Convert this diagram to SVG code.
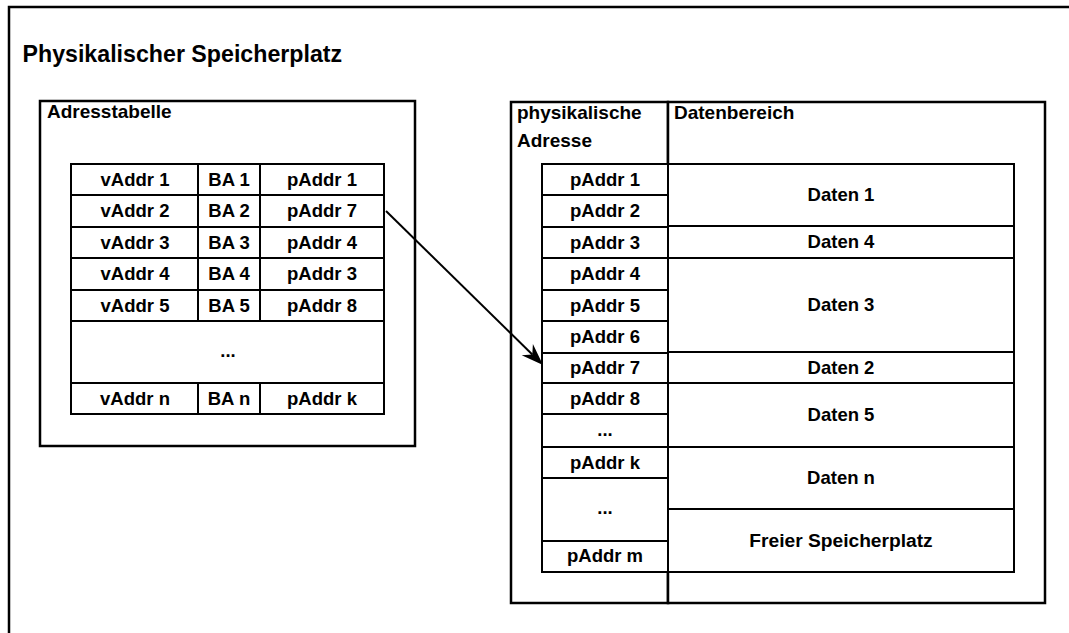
<svg xmlns="http://www.w3.org/2000/svg" width="1069" height="633" viewBox="0 0 1069 633">
<style>
.box{fill:#fff;stroke:#000;stroke-width:2.5}
.cell{fill:#fff;stroke:#000;stroke-width:2}
text{font-family:"Liberation Sans",Arial,sans-serif;font-weight:bold;fill:#000}
.t{font-size:18.5px;text-anchor:middle}
.h{font-size:19px}
.title{font-size:23.2px}
.conn{stroke:#000;stroke-width:2;fill:none}
</style>
<defs>
<marker id="arr" markerUnits="userSpaceOnUse" viewBox="-8 -9 24 18" markerWidth="24" markerHeight="18" refX="0" refY="0" orient="auto" overflow="visible">
<path d="M15,0 L-7,-8 L0,0 L-7,8 Z" fill="#000"/>
</marker>
</defs>
<rect width="1069" height="633" fill="#fff"/>
<g id="frame">
<rect class="box" x="9" y="7" width="1080" height="650"/>
<text class="title" x="22.5" y="62">Physikalischer Speicherplatz</text>
</g>
<g id="adresstabelle">
<rect class="box" x="40" y="101" width="375" height="345"/>
<text class="h" x="47" y="118">Adresstabelle</text>
<g id="table">
<rect class="cell" x="71" y="164" width="127" height="31"/><rect class="cell" x="198" y="164" width="62" height="31"/><rect class="cell" x="260" y="164" width="124" height="31"/>
<rect class="cell" x="71" y="195" width="127" height="32"/><rect class="cell" x="198" y="195" width="62" height="32"/><rect class="cell" x="260" y="195" width="124" height="32"/>
<rect class="cell" x="71" y="227" width="127" height="31"/><rect class="cell" x="198" y="227" width="62" height="31"/><rect class="cell" x="260" y="227" width="124" height="31"/>
<rect class="cell" x="71" y="258" width="127" height="32"/><rect class="cell" x="198" y="258" width="62" height="32"/><rect class="cell" x="260" y="258" width="124" height="32"/>
<rect class="cell" x="71" y="290" width="127" height="31"/><rect class="cell" x="198" y="290" width="62" height="31"/><rect class="cell" x="260" y="290" width="124" height="31"/>
<rect class="cell" x="71" y="321" width="313" height="62"/>
<rect class="cell" x="71" y="383" width="127" height="31"/><rect class="cell" x="198" y="383" width="62" height="31"/><rect class="cell" x="260" y="383" width="124" height="31"/>
<text class="t" x="135" y="185.5">vAddr 1</text><text class="t" x="229" y="185.5">BA 1</text><text class="t" x="322" y="185.5">pAddr 1</text>
<text class="t" x="135" y="217">vAddr 2</text><text class="t" x="229" y="217">BA 2</text><text class="t" x="322" y="217">pAddr 7</text>
<text class="t" x="135" y="248.5">vAddr 3</text><text class="t" x="229" y="248.5">BA 3</text><text class="t" x="322" y="248.5">pAddr 4</text>
<text class="t" x="135" y="280">vAddr 4</text><text class="t" x="229" y="280">BA 4</text><text class="t" x="322" y="280">pAddr 3</text>
<text class="t" x="135" y="311.5">vAddr 5</text><text class="t" x="229" y="311.5">BA 5</text><text class="t" x="322" y="311.5">pAddr 8</text>
<text class="t" x="228" y="357">...</text>
<text class="t" x="135" y="404.5">vAddr n</text><text class="t" x="229" y="404.5">BA n</text><text class="t" x="322" y="404.5">pAddr k</text>
</g>
</g>
<g id="speicher">
<rect class="box" x="511" y="102" width="157" height="501"/>
<rect class="box" x="668" y="102" width="377" height="501"/>
<text class="h" x="517" y="118.5">physikalische</text>
<text class="h" x="517" y="147">Adresse</text>
<text class="h" x="674" y="119">Datenbereich</text>
</g>
<g id="adressen">
<rect class="cell" x="542" y="164" width="126" height="31"/>
<rect class="cell" x="542" y="195" width="126" height="32"/>
<rect class="cell" x="542" y="227" width="126" height="31"/>
<rect class="cell" x="542" y="258" width="126" height="32"/>
<rect class="cell" x="542" y="290" width="126" height="31"/>
<rect class="cell" x="542" y="321" width="126" height="32"/>
<rect class="cell" x="542" y="353" width="126" height="30"/>
<rect class="cell" x="542" y="383" width="126" height="31"/>
<rect class="cell" x="542" y="414" width="126" height="33"/>
<rect class="cell" x="542" y="447" width="126" height="31"/>
<rect class="cell" x="542" y="478" width="126" height="63"/>
<rect class="cell" x="542" y="541" width="126" height="31"/>
<text class="t" x="605" y="185.5">pAddr 1</text>
<text class="t" x="605" y="217">pAddr 2</text>
<text class="t" x="605" y="248.5">pAddr 3</text>
<text class="t" x="605" y="280">pAddr 4</text>
<text class="t" x="605" y="311.5">pAddr 5</text>
<text class="t" x="605" y="343">pAddr 6</text>
<text class="t" x="605" y="374">pAddr 7</text>
<text class="t" x="605" y="404.5">pAddr 8</text>
<text class="t" x="605" y="436">...</text>
<text class="t" x="605" y="468.5">pAddr k</text>
<text class="t" x="605" y="514">...</text>
<text class="t" x="605" y="562">pAddr m</text>
</g>
<g id="daten">
<rect class="cell" x="668" y="164" width="346" height="62"/>
<rect class="cell" x="668" y="226" width="346" height="32"/>
<rect class="cell" x="668" y="258" width="346" height="94"/>
<rect class="cell" x="668" y="352" width="346" height="31"/>
<rect class="cell" x="668" y="383" width="346" height="64"/>
<rect class="cell" x="668" y="447" width="346" height="62"/>
<rect class="cell" x="668" y="509" width="346" height="63"/>
<text class="t" x="841" y="201">Daten 1</text>
<text class="t" x="841" y="248">Daten 4</text>
<text class="t" x="841" y="311">Daten 3</text>
<text class="t" x="841" y="373.5">Daten 2</text>
<text class="t" x="841" y="421">Daten 5</text>
<text class="t" x="841" y="484">Daten n</text>
<text class="t" x="841" y="546.5" style="font-size:19.2px">Freier Speicherplatz</text>
</g>
<g id="connectors">
<line class="conn" x1="386" y1="211" x2="532.3" y2="354.5" marker-end="url(#arr)"/>
</g>
</svg>
